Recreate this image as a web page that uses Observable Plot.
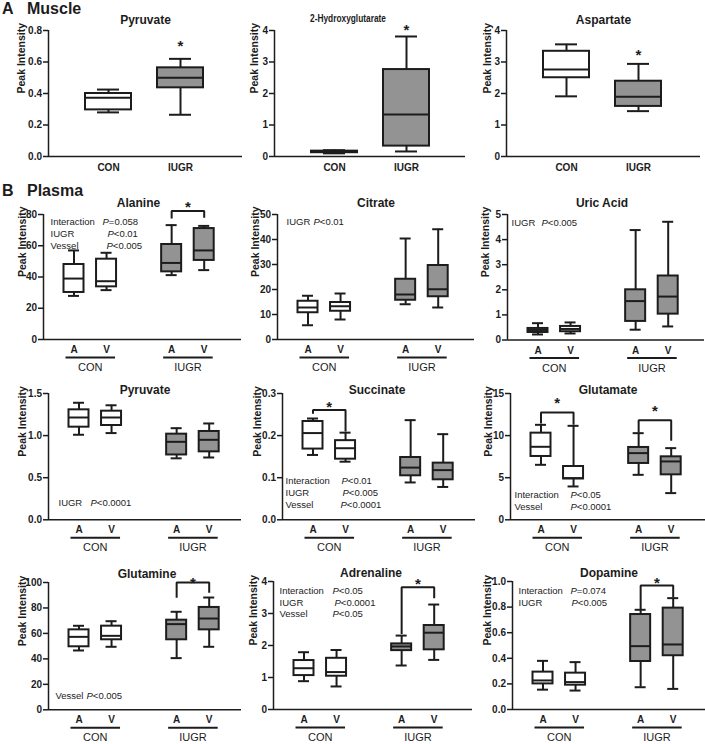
<!DOCTYPE html>
<html><head><meta charset="utf-8">
<script src="https://cdn.jsdelivr.net/npm/d3@7"></script>
<script src="https://cdn.jsdelivr.net/npm/@observablehq/plot@0.6"></script>
<style>
body{margin:0;background:#fff;}
#fig{position:relative;width:705px;height:744px;overflow:hidden;font-family:Arial,"Liberation Sans",sans-serif;color:#1c1c1c;}
.sec{position:absolute;font-weight:bold;font-size:16px;line-height:16px;white-space:nowrap;}
.panel{position:absolute;}
</style></head><body><div id="fig">
<div class="sec" style="left:2px;top:0.5px">A</div><div class="sec" style="left:27px;top:0.5px">Muscle</div>
<div class="sec" style="left:2px;top:183px">B</div><div class="sec" style="left:27px;top:183px">Plasma</div>
</div>
<script>
// ---------- categories ----------
const muscleCats = ["CON", "IUGR"];
const plasmaCats = ["CON A", "CON V", "IUGR A", "IUGR V"];
const plasmaSlots = ["CON A", "CON V", "gap", "IUGR A", "IUGR V"];
const plasmaGroups = ["CON", "IUGR"];
const muscleTitles = ["Pyruvate", "2-Hydroxyglutarate", "Aspartate"];
const plasmaTitles = ["Alanine", "Citrate", "Uric Acid", "Pyruvate", "Succinate", "Glutamate", "Glutamine", "Adrenaline", "Dopamine"];
const yLabel = "Peak Intensity";

// ---------- box values: each row = [min, q1, median, q3, max] ----------
const musclePyruvate = [[0.28, 0.296, 0.373, 0.40, 0.425], [0.265, 0.436, 0.50, 0.563, 0.62]];
const muscleHydroxyglutarate = [[0.10, 0.12, 0.145, 0.17, 0.20], [0.16, 0.33, 1.33, 2.76, 3.81]];
const muscleAspartate = [[1.91, 2.50, 2.76, 3.34, 3.56], [1.44, 1.59, 1.90, 2.39, 2.94]];

const plasmaAlanine = [[27.9, 30.1, 39.0, 48.0, 57.0], [31.6, 33.7, 37.3, 51.4, 55.5], [41.2, 43.3, 49.0, 60.8, 73.2], [44.4, 50.6, 57.0, 71.0, 72.7]];
const plasmaCitrate = [[5.7, 10.7, 12.8, 15.3, 17.5], [8.0, 11.3, 13.3, 14.8, 18.4], [14.1, 15.7, 18.0, 24.1, 40.4], [12.8, 17.1, 20.1, 29.6, 44.1]];
const plasmaUricAcid = [[0.22, 0.30, 0.40, 0.46, 0.67], [0.26, 0.33, 0.44, 0.54, 0.70], [0.41, 0.74, 1.55, 2.0, 4.38], [0.54, 1.03, 1.73, 2.55, 4.71]];
const plasmaPyruvate = [[1.01, 1.10, 1.215, 1.306, 1.39], [1.03, 1.12, 1.215, 1.29, 1.36], [0.73, 0.77, 0.926, 1.017, 1.088], [0.74, 0.807, 0.95, 1.049, 1.144]];
const plasmaSuccinate = [[0.154, 0.168, 0.206, 0.2335, 0.2406], [0.138, 0.144, 0.170, 0.188, 0.207], [0.0887, 0.1045, 0.124, 0.148, 0.2367], [0.078, 0.095, 0.118, 0.1346, 0.2034]];
const plasmaGlutamate = [[6.53, 7.52, 8.67, 10.29, 11.28], [3.96, 4.85, 4.95, 6.33, 11.16], [5.34, 6.69, 7.92, 8.59, 10.29], [3.17, 5.34, 6.93, 7.48, 8.51]];
const plasmaGlutamine = [[46.6, 49.5, 57.3, 62.8, 66.0], [49.5, 55.0, 58.1, 65.7, 69.6], [40.6, 55.0, 67.3, 70.4, 77.0], [49.5, 62.8, 71.7, 80.4, 88.2]];
const plasmaAdrenaline = [[0.885, 1.06, 1.29, 1.53, 1.79], [0.72, 1.04, 1.17, 1.60, 1.86], [1.375, 1.84, 1.97, 2.05, 2.31], [1.55, 1.865, 2.40, 2.625, 3.28]];
const plasmaDopamine = [[0.155, 0.20, 0.227, 0.292, 0.38], [0.148, 0.19, 0.214, 0.284, 0.37], [0.174, 0.375, 0.495, 0.742, 0.779], [0.161, 0.42, 0.508, 0.792, 0.87]];

// ---------- y tick labels ----------
const ticksMusclePyruvate = [0, 0.2, 0.4, 0.6, 0.8];
const ticksHydroxyglutarate = [0, 1, 2, 3, 4];
const ticksAspartate = [0, 1, 2, 3, 4];
const ticksAlanine = [0, 20, 40, 60, 80];
const ticksCitrate = [0, 10, 20, 30, 40, 50];
const ticksUricAcid = [0, 1, 2, 3, 4, 5];
const ticksPlasmaPyruvate = [0, 0.5, 1.0, 1.5];
const ticksSuccinate = [0, 0.1, 0.2, 0.3];
const ticksGlutamate = [0, 5, 10, 15];
const ticksGlutamine = [0, 20, 40, 60, 80, 100];
const ticksAdrenaline = [0, 1, 2, 3, 4];
const ticksDopamine = [0, 0.2, 0.4, 0.6, 0.8, 1.0];

// ---------- statistics text ----------
const statsAlanine = [["Interaction", "=0.058"], ["IUGR", "<0.01"], ["Vessel", "<0.005"]];
const statsCitrate = [["IUGR", "<0.01"]];
const statsUricAcid = [["IUGR", "<0.005"]];
const statsPlasmaPyruvate = [["IUGR", "<0.0001"]];
const statsSuccinate = [["Interaction", "<0.01"], ["IUGR", "<0.005"], ["Vessel", "<0.0001"]];
const statsGlutamate = [["Interaction", "<0.05"], ["Vessel", "<0.0001"]];
const statsGlutamine = [["Vessel", "<0.005"]];
const statsAdrenaline = [["Interaction", "<0.05"], ["IUGR", "<0.0001"], ["Vessel", "<0.05"]];
const statsDopamine = [["Interaction", "=0.074"], ["IUGR", "<0.005"]];

// ---------- significance: [from, to, bracket top, left leg end, right leg end, star] (data units) ----------
const sigAlanine = [["IUGR A", "IUGR V", 82.3, 77.4, 77.9, 87.0]];
const sigSuccinate = [["CON A", "CON V", 0.261, 0.252, 0.210, 0.277]];
const sigGlutamate = [["CON A", "CON V", 12.74, 11.44, 11.28, 14.3], ["IUGR A", "IUGR V", 11.83, 10.37, 9.38, 13.4]];
const sigGlutamine = [["IUGR A", "IUGR V", 100, 88, 92, 102.6]];
const sigAdrenaline = [["IUGR A", "IUGR V", 3.82, 2.36, 3.48, 4.03]];
const sigDopamine = [["IUGR A", "IUGR V", 0.969, 0.786, 0.878, 1.02]];
const starsMusclePyruvate = [["IUGR", 0.724]];
const starsHydroxyglutarate = [["IUGR", 4.15]];
const starsAspartate = [["IUGR", 3.34]];

// ---------- styles ----------
const INK = "#1c1c1c";
const GRAY = "#939393";
const STAT_FONT = 9.5;

// ---------- layout (pixels) ----------
const MUSCLE_BAND = {step: 72, bw: 46, c0: 60, cap: 12, xPad: 7.4};
const PLASMA_BAND = {step: 32.55, bw: 20, c0: 30.5, cap: 4.5, xPad: 6.4};

const specs = [
  {title: muscleTitles[0], cats: muscleCats, slots: muscleCats, values: musclePyruvate, ticks: ticksMusclePyruvate, fmt: ".1f", stars: starsMusclePyruvate,
   L: {axis: 48, right: 242, top: 30, bottom: 156, labelOff: 27, titleGap: 15, titleDx: 0}},
  {title: muscleTitles[1], cats: muscleCats, slots: muscleCats, values: muscleHydroxyglutarate, ticks: ticksHydroxyglutarate, fmt: "d", stars: starsHydroxyglutarate,
   L: {axis: 274, right: 465, top: 30, bottom: 156, labelOff: 20, titleGap: 16, titleDx: -22, titleSize: 10.5, titleLength: 76}},
  {title: muscleTitles[2], cats: muscleCats, slots: muscleCats, values: muscleAspartate, ticks: ticksAspartate, fmt: "d", stars: starsAspartate,
   L: {axis: 506, right: 700, top: 30, bottom: 156, labelOff: 19, titleGap: 15, titleDx: 0}},

  {title: plasmaTitles[0], values: plasmaAlanine, ticks: ticksAlanine, fmt: "d", stats: statsAlanine, sig: sigAlanine,
   L: {axis: 43, right: 241, top: 214.3, bottom: 339.3, labelOff: 21, titleGap: 16, titleDx: -4, sLX: 7, sPX: [59, 64, 63], sY: [3.4, 16, 28], sFrom: "top"}},
  {title: plasmaTitles[1], values: plasmaCitrate, ticks: ticksCitrate, fmt: "d", stats: statsCitrate, sig: [],
   L: {axis: 277, right: 474, top: 214.3, bottom: 339.3, labelOff: 22, titleGap: 16, titleDx: 0, sLX: 9, sPX: [36], sY: [4], sFrom: "top"}},
  {title: plasmaTitles[2], values: plasmaUricAcid, ticks: ticksUricAcid, fmt: "d", stats: statsUricAcid, sig: [],
   L: {axis: 507, right: 704, top: 213.8, bottom: 339.3, labelOff: 22, titleGap: 16, titleDx: -4, sLX: 4, sPX: [34], sY: [4.5], sFrom: "top"}},

  {title: plasmaTitles[3], values: plasmaPyruvate, ticks: ticksPlasmaPyruvate, fmt: ".1f", stats: statsPlasmaPyruvate, sig: [],
   L: {axis: 48, right: 241, top: 392.7, bottom: 519, labelOff: 26, titleGap: 8, titleDx: 0, sLX: 10, sPX: [42], sY: [-14], sFrom: "bottom"}},
  {title: plasmaTitles[4], values: plasmaSuccinate, ticks: ticksSuccinate, fmt: ".1f", stats: statsSuccinate, sig: sigSuccinate,
   L: {axis: 282, right: 475, top: 392.7, bottom: 519, labelOff: 25, titleGap: 8, titleDx: -2, sLX: 3, sPX: [59, 60, 58], sY: [-36, -24, -12], sFrom: "bottom"}},
  {title: plasmaTitles[5], values: plasmaGlutamate, ticks: ticksGlutamate, fmt: "d", stats: statsGlutamate, sig: sigGlutamate,
   L: {axis: 510, right: 705, top: 392.7, bottom: 519, labelOff: 22, titleGap: 8, titleDx: 0, sLX: 4, sPX: [60, 60], sY: [-22, -10], sFrom: "bottom"}},

  {title: plasmaTitles[6], values: plasmaGlutamine, ticks: ticksGlutamine, fmt: "d", stats: statsGlutamine, sig: sigGlutamine,
   L: {axis: 48, right: 241, top: 581.7, bottom: 709, labelOff: 26, titleGap: 13.5, titleDx: 2, sLX: 7, sPX: [38], sY: [-11], sFrom: "bottom"}},
  {title: plasmaTitles[7], values: plasmaAdrenaline, ticks: ticksAdrenaline, fmt: "d", stats: statsAdrenaline, sig: sigAdrenaline,
   L: {axis: 273, right: 472, top: 581, bottom: 709, labelOff: 20, titleGap: 13.5, titleDx: -2, sLX: 6, sPX: [59, 61, 59], sY: [6, 18, 29], sFrom: "top"}},
  {title: plasmaTitles[8], values: plasmaDopamine, ticks: ticksDopamine, fmt: ".1f", stats: statsDopamine, sig: sigDopamine,
   L: {axis: 512, right: 705, top: 581, bottom: 709, labelOff: 25, titleGap: 13.5, titleDx: 0, sLX: 6, sPX: [58, 59], sY: [6, 18], sFrom: "top"}}
];

const fig = document.getElementById("fig");
const mL = 48, mR = 4, mT = 30, mB = 44;

function renderPanel(p) {
  const isMuscle = !!p.stars;
  const cats = p.cats || plasmaCats;
  const slots = p.slots || plasmaSlots;
  const B = isMuscle ? MUSCLE_BAND : PLASMA_BAND;
  const L = p.L;
  const W = L.right - L.axis;
  const H = L.bottom - L.top;
  const n = slots.length;
  const pi = 1 - B.bw / B.step;
  const po = (W / B.step - (n - pi)) / 2;
  const align = (B.c0 - B.bw / 2) / (W - B.step * (n - pi));
  const xScale = d3.scaleBand().domain(slots).range([0, W]).paddingInner(pi).paddingOuter(po).align(align);
  const step = xScale.step();
  const yMax = p.ticks[p.ticks.length - 1];

  const rows = cats.map((c, i) => ({
    cat: c, group: c.split(" ")[0],
    min: p.values[i][0], q1: p.values[i][1], median: p.values[i][2], q3: p.values[i][3], max: p.values[i][4]
  }));

  const marks = [
    // axis lines
    Plot.ruleY([0], {stroke: INK, strokeWidth: 1.5}),
    Plot.ruleX([{y1: 0, y2: yMax}], {x: null, y1: "y1", y2: "y2", dx: -W / 2, stroke: INK, strokeWidth: 1.5}),
    Plot.axisY({ticks: p.ticks, tickFormat: d3.format(p.fmt), tickSize: 5, tickPadding: 1.5, label: null,
      fontWeight: "bold", fontSize: 10, stroke: INK, strokeWidth: 1.5}),
    Plot.axisX({ticks: cats, tickFormat: isMuscle ? (d => d) : (d => d.split(" ")[1]), tickSize: 0, tickPadding: B.xPad,
      label: null, fontWeight: "bold", fontSize: 10}),
    // whiskers
    Plot.ruleX(rows, {x: "cat", y1: "min", y2: "q1", stroke: INK, strokeWidth: 2}),
    Plot.ruleX(rows, {x: "cat", y1: "q3", y2: "max", stroke: INK, strokeWidth: 2}),
    Plot.tickY(rows, {x: "cat", y: "min", insetLeft: B.cap, insetRight: B.cap, stroke: INK, strokeWidth: 2}),
    Plot.tickY(rows, {x: "cat", y: "max", insetLeft: B.cap, insetRight: B.cap, stroke: INK, strokeWidth: 2}),
    // boxes
    Plot.barY(rows, {filter: d => d.group === "CON", x: "cat", y1: "q1", y2: "q3", fill: "white", stroke: INK, strokeWidth: 2}),
    Plot.barY(rows, {filter: d => d.group !== "CON", x: "cat", y1: "q1", y2: "q3", fill: GRAY, stroke: INK, strokeWidth: 2}),
    Plot.tickY(rows, {x: "cat", y: "median", stroke: INK, strokeWidth: 2}),
    // title
    Plot.text([p.title], {text: d => d, frameAnchor: "top", dy: -L.titleGap, dx: L.titleDx, fontWeight: "bold", fontSize: L.titleSize || 12, fill: INK}),
    // y label
    Plot.text([yLabel], {text: d => d, frameAnchor: "left", rotate: -90, dx: -L.labelOff, fontWeight: "bold", fontSize: 10.5, fill: INK})
  ];

  if (isMuscle) {
    marks.push(Plot.text(p.stars, {x: d => d[0], y: d => d[1], text: () => "*", dy: 4, fontSize: 15, fontWeight: "bold", fill: INK}));
  } else {
    // group underline + group label
    marks.push(Plot.ruleY(plasmaGroups, {x1: g => g + " A", x2: g => g + " V", y: 0, dy: 18, insetLeft: 2, insetRight: 1, stroke: INK, strokeWidth: 2}));
    marks.push(Plot.text(plasmaGroups, {x: g => g + " A", y: 0, text: g => g, dx: step / 2, dy: 28, fontSize: 11, fontWeight: "normal", fill: INK}));
    // brackets
    const pts = p.sig.flatMap((b, j) => [
      {id: j, x: b[0], y: b[3]}, {id: j, x: b[0], y: b[2]}, {id: j, x: b[1], y: b[2]}, {id: j, x: b[1], y: b[4]}
    ]);
    if (pts.length) {
      marks.push(Plot.line(pts, {x: "x", y: "y", z: "id", stroke: INK, strokeWidth: 2, strokeLinejoin: "miter", strokeLinecap: "butt", curve: "linear"}));
      marks.push(Plot.text(p.sig, {x: b => b[0], y: b => b[5], text: () => "*", dx: step / 2, dy: 4, fontSize: 15, fontWeight: "bold", fill: INK}));
    }
    // statistics annotation
    p.stats.forEach((line, i) => {
      const fa = L.sFrom === "top" ? "top-left" : "bottom-left";
      const common = {frameAnchor: fa, dy: L.sY[i], textAnchor: "start", fontSize: STAT_FONT, fontWeight: "normal", fill: INK};
      marks.push(Plot.text([line], {...common, text: d => d[0], dx: L.sLX}));
      marks.push(Plot.text([line], {...common, text: () => "P", dx: L.sPX[i], fontStyle: "italic"}));
      marks.push(Plot.text([line], {...common, text: d => d[1], dx: L.sPX[i] + STAT_FONT * 0.667}));
    });
  }

  const svg = Plot.plot({
    width: mL + W + mR,
    height: mT + H + mB,
    marginLeft: mL, marginRight: mR, marginTop: mT, marginBottom: mB,
    x: {type: "band", domain: slots, paddingInner: pi, paddingOuter: po, align, round: false},
    y: {domain: [0, yMax]},
    style: {background: "transparent", overflow: "visible", maxWidth: "none", color: INK,
      fontFamily: 'Arial, "Liberation Sans", sans-serif', fontSize: "10px"},
    marks
  });
  // the reference sets this long title in a horizontally condensed form
  if (L.titleLength) {
    svg.querySelectorAll("text").forEach(t => {
      if (t.textContent === p.title) {
        t.setAttribute("textLength", L.titleLength);
        t.setAttribute("lengthAdjust", "spacingAndGlyphs");
      }
    });
  }
  const div = document.createElement("div");
  div.className = "panel";
  div.style.left = (L.axis - mL) + "px";
  div.style.top = (L.top - mT) + "px";
  div.appendChild(svg);
  fig.appendChild(div);
}

specs.forEach(renderPanel);
</script>
</body></html>
